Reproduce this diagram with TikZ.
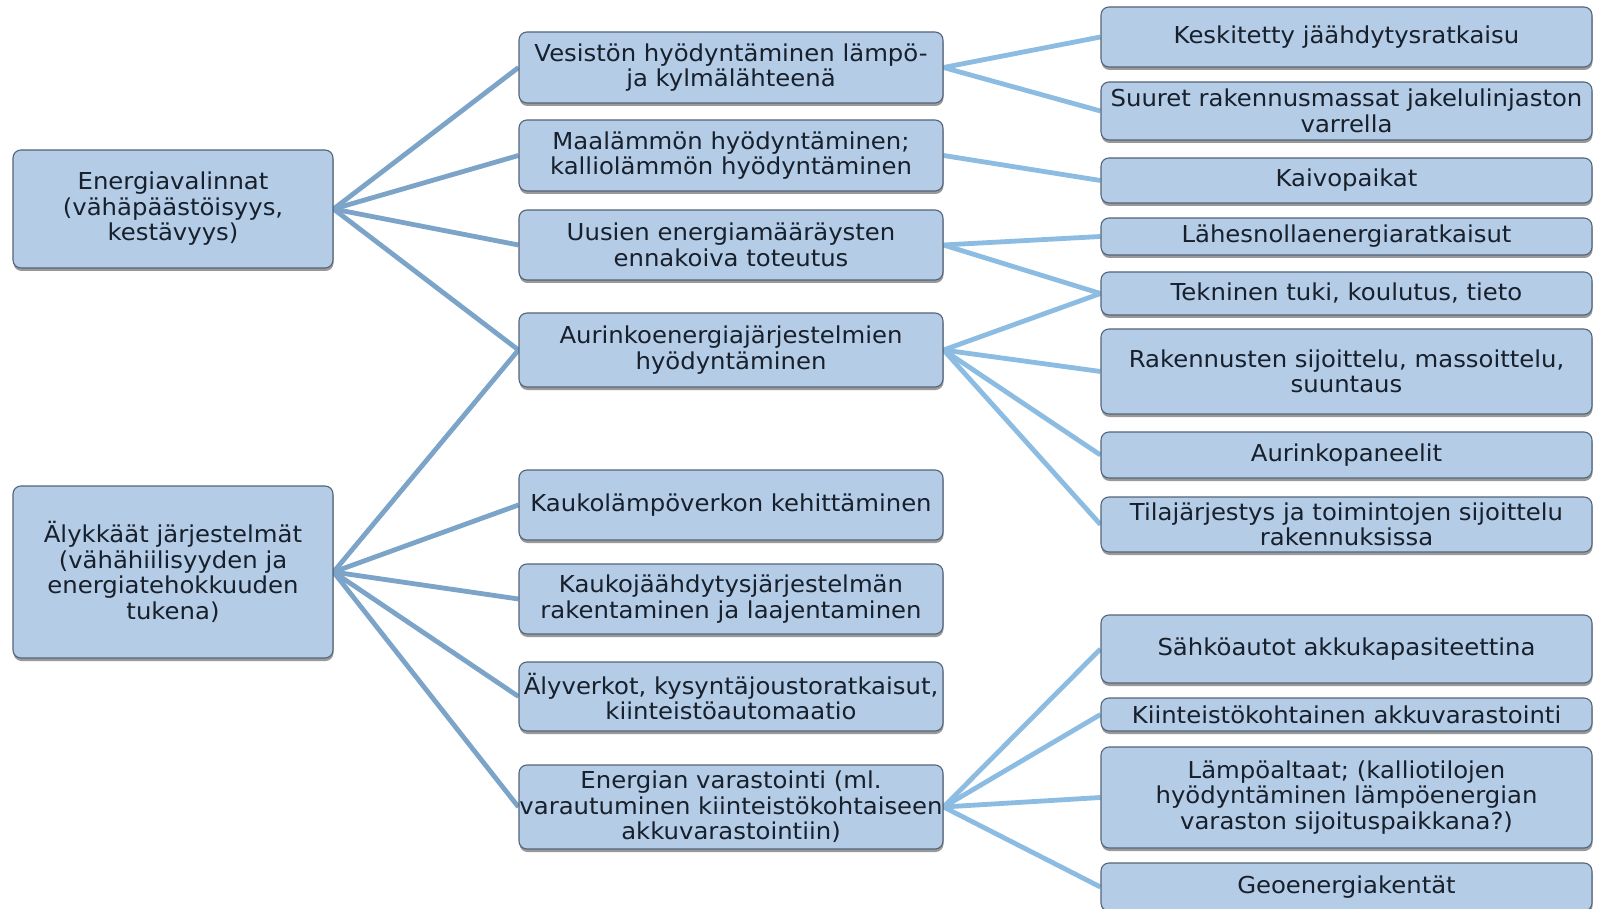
\documentclass[tikz,border=0pt]{standalone}
\usepackage{fontspec}
\setmainfont{DejaVu Sans}[FakeStretch=1.045]
\usetikzlibrary{shadows,backgrounds}
\definecolor{boxfill}{HTML}{B4CCE5}
\definecolor{boxline}{HTML}{53657A}
\definecolor{txt}{HTML}{17202C}
\definecolor{linkL}{HTML}{7BA4C8}
\definecolor{linkR}{HTML}{8CBCE2}
\tikzset{
 box/.style={draw=boxline, line width=1.1pt, fill=boxfill, rounded corners=8pt, align=center, inner xsep=0pt, inner ysep=1pt, text=txt, font=\fontsize{23.3}{25.5}\selectfont, drop shadow={shadow xshift=0.5pt, shadow yshift=-3pt, opacity=0.4, fill=black}},
 lbox/.style={box, minimum width=320pt},
 mbox/.style={box, minimum width=424pt},
 rbox/.style={box, minimum width=491pt},
 linkl/.style={draw=linkL, line width=4.8pt},
 linkr/.style={draw=linkR, line width=4.8pt},
}
\begin{document}
\begin{tikzpicture}[x=1pt,y=-1pt]
\useasboundingbox (0,0) rectangle (1599,909);
\clip (0,0) rectangle (1599,909);
% left
\node[lbox, minimum height=118pt] (L1) at (173,209) {Energiavalinnat\\(vähäpäästöisyys,\\kestävyys)};
\node[lbox, minimum height=172pt] (L2) at (173,572) {Älykkäät järjestelmät\\(vähähiilisyyden ja\\energiatehokkuuden\\tukena)};
% middle
\node[mbox, minimum height=71pt] (M1) at (731,67.5) {Vesistön hyödyntäminen lämpö-\\ja kylmälähteenä};
\node[mbox, minimum height=71pt] (M2) at (731,155.5) {Maalämmön hyödyntäminen;\\kalliolämmön hyödyntäminen};
\node[mbox, minimum height=70pt] (M3) at (731,245) {Uusien energiamääräysten\\ennakoiva toteutus};
\node[mbox, minimum height=74pt] (M4) at (731,350) {Aurinkoenergiajärjestelmien\\hyödyntäminen};
\node[mbox, minimum height=70pt] (M5) at (731,505) {Kaukolämpöverkon kehittäminen};
\node[mbox, minimum height=70pt] (M6) at (731,599) {Kaukojäähdytysjärjestelmän\\rakentaminen ja laajentaminen};
\node[mbox, minimum height=69pt] (M7) at (731,696.5) {Älyverkot, kysyntäjoustoratkaisut,\\kiinteistöautomaatio};
\node[mbox, minimum height=84pt] (M8) at (731,807) {Energian varastointi (ml.\\varautuminen kiinteistökohtaiseen\\akkuvarastointiin)};
% right
\node[rbox, minimum height=60pt] (R1) at (1346.5,37) {Keskitetty jäähdytysratkaisu};
\node[rbox, minimum height=58pt] (R2) at (1346.5,111) {Suuret rakennusmassat jakelulinjaston\\varrella};
\node[rbox, minimum height=45pt] (R3) at (1346.5,180.5) {Kaivopaikat};
\node[rbox, minimum height=37pt] (R4) at (1346.5,236.5) {Lähesnollaenergiaratkaisut};
\node[rbox, minimum height=43pt] (R5) at (1346.5,293.5) {Tekninen tuki, koulutus, tieto};
\node[rbox, minimum height=85pt] (R6) at (1346.5,371.5) {Rakennusten sijoittelu, massoittelu,\\suuntaus};
\node[rbox, minimum height=46pt] (R7) at (1346.5,455) {Aurinkopaneelit};
\node[rbox, minimum height=55pt] (R8) at (1346.5,524.5) {Tilajärjestys ja toimintojen sijoittelu\\rakennuksissa};
\node[rbox, minimum height=68pt] (R9) at (1346.5,649) {Sähköautot akkukapasiteettina};
\node[rbox, minimum height=33pt] (R10) at (1346.5,714.5) {Kiinteistökohtainen akkuvarastointi};
\node[rbox, minimum height=101pt] (R11) at (1346.5,797.5) {Lämpöaltaat; (kalliotilojen\\hyödyntäminen lämpöenergian\\varaston sijoituspaikkana?)};
\node[rbox, minimum height=48pt] (R12) at (1346.5,887) {Geoenergiakentät};
\begin{scope}[on background layer]
\fill[white] (0,0) rectangle (1599,909);
\foreach \m in {M1,M2,M3,M4} \draw[linkl] (L1.east) -- (\m.west);
\foreach \m in {M4,M5,M6,M7,M8} \draw[linkl] (L2.east) -- (\m.west);
\draw[linkr] (M1.east) -- (R1.west);
\draw[linkr] (M1.east) -- (R2.west);
\draw[linkr] (M2.east) -- (R3.west);
\draw[linkr] (M3.east) -- (R4.west);
\draw[linkr] (M3.east) -- (R5.west);
\foreach \r in {R5,R6,R7,R8} \draw[linkr] (M4.east) -- (\r.west);
\foreach \r in {R9,R10,R11,R12} \draw[linkr] (M8.east) -- (\r.west);
\end{scope}
\end{tikzpicture}
\end{document}
